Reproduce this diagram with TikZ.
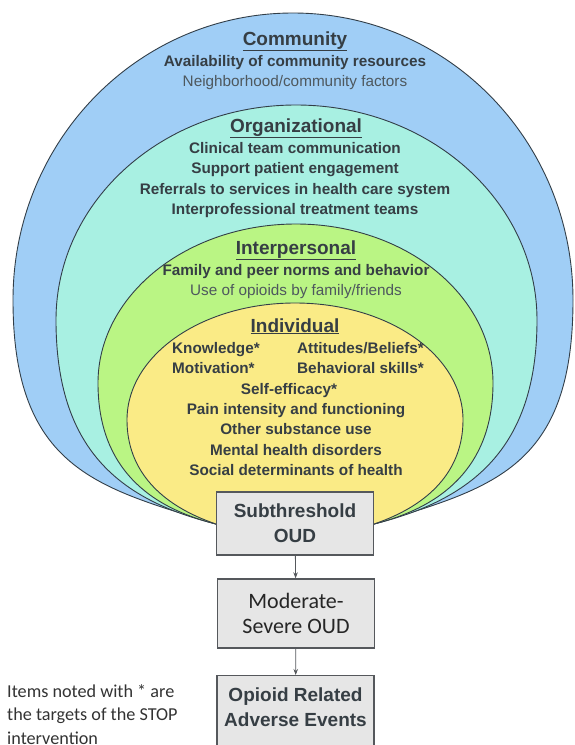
\documentclass[tikz,border=0pt]{standalone}
\usepackage{fontspec}
\setmainfont{Liberation Sans}
\newfontfamily\calibri{Carlito}
\usetikzlibrary{arrows.meta}

\definecolor{commblue}{RGB}{160,206,246}
\definecolor{orgcyan}{RGB}{168,240,226}
\definecolor{intgreen}{RGB}{186,245,132}
\definecolor{indyellow}{RGB}{250,235,134}
\definecolor{rimgray}{RGB}{50,62,72}
\definecolor{inkdark}{RGB}{54,62,68}
\definecolor{inklight}{RGB}{78,88,94}
\definecolor{boxgray}{RGB}{230,230,230}
\definecolor{boxrim}{RGB}{85,88,92}

\tikzset{
  layer/.style={draw=rimgray, line width=0.9pt},
  head/.style={anchor=base, inner sep=0pt, text=inkdark, font=\fontsize{19}{22}\selectfont\bfseries},
  itembold/.style={anchor=base, inner sep=0pt, text=inkdark, font=\fontsize{15.3}{18}\selectfont\bfseries},
  itemplain/.style={anchor=base, inner sep=0pt, text=inklight, font=\fontsize{15.3}{18}\selectfont},
  stage/.style={draw=boxrim, line width=1.4pt, fill=boxgray, align=center, minimum width=157pt, text=inkdark},
  flow/.style={-{Stealth[length=6pt,width=4.5pt]}, draw=boxrim, line width=0.8pt},
}

\begin{document}
\begin{tikzpicture}[x=1pt,y=-1pt]
  \useasboundingbox (0,0) rectangle (574,745);
  \clip (0,0) rectangle (574,745);
  % nested levels, all pinched towards the first box
  \filldraw[layer,fill=commblue] (216,524) .. controls (100,488) and (13,470) .. (13,300)
    .. controls (13,141) and (138,13) .. (293,13) .. controls (448,13) and (573,141) .. (573,300)
    .. controls (573,470) and (490,488) .. (374,524) -- cycle;
  \filldraw[layer,fill=orgcyan] (216,524) .. controls (120,500) and (56,450) .. (56,320)
    .. controls (56,201) and (163,105) .. (296,105) .. controls (429,105) and (537,201) .. (537,320)
    .. controls (537,450) and (470,500) .. (374,524) -- cycle;
  \filldraw[layer,fill=intgreen] (216,524) .. controls (140,505) and (98,460) .. (98,383)
    .. controls (98,295) and (187,224) .. (296,224) .. controls (405,224) and (493,295) .. (493,383)
    .. controls (493,460) and (450,505) .. (374,524) -- cycle;
  \filldraw[layer,fill=indyellow] (216,524) .. controls (160,505) and (127,470) .. (127,420)
    .. controls (127,355) and (202,303) .. (295,303) .. controls (388,303) and (463,355) .. (463,420)
    .. controls (463,470) and (430,505) .. (374,524) -- cycle;

  % community
  \node[head] (comm) at (295,45) {\underline{Community}};
  \node[itembold] (comm1) at (295,66) {Availability of community resources};
  \node[itemplain] (comm2) at (295,86) {Neighborhood/community factors};
  % organizational
  \node[head] (org) at (296,132) {\underline{Organizational}};
  \node[itembold] (org1) at (295,153) {Clinical team communication};
  \node[itembold] (org2) at (295,173) {Support patient engagement};
  \node[itembold] (org3) at (295,194) {Referrals to services in health care system};
  \node[itembold] (org4) at (295,214) {Interprofessional treatment teams};
  % interpersonal
  \node[head] (inter) at (296,254) {\underline{Interpersonal}};
  \node[itembold] (inter1) at (296,275) {Family and peer norms and behavior};
  \node[itemplain] (inter2) at (296,295) {Use of opioids by family/friends};
  % individual
  \node[head] (indiv) at (295,332) {\underline{Individual}};
  \node[itembold,anchor=base west] (know) at (172,353) {Knowledge*};
  \node[itembold,anchor=base west] (att) at (297,353) {Attitudes/Beliefs*};
  \node[itembold,anchor=base west] (motiv) at (172,373) {Motivation*};
  \node[itembold,anchor=base west] (skill) at (297,373) {Behavioral skills*};
  \node[itembold] (self) at (289,394) {Self-efficacy*};
  \node[itembold] (pain) at (296,414) {Pain intensity and functioning};
  \node[itembold] (subst) at (296,434) {Other substance use};
  \node[itembold] (mental) at (296,455) {Mental health disorders};
  \node[itembold] (social) at (296,475) {Social determinants of health};

  % stages
  \node[stage,minimum height=63pt,font=\fontsize{19}{25}\selectfont\bfseries] (sub) at (295,523.5) {Subthreshold\\OUD};
  \node[stage,minimum height=69pt,text=black!85,font=\calibri\fontsize{22}{25}\selectfont] (mod) at (296,613.5) {Moderate-\\Severe OUD};
  \node[stage,anchor=north,inner ysep=12pt,font=\fontsize{19}{25}\selectfont\bfseries] (ore) at (295.5,675) {Opioid Related\\Adverse Events\\\mbox{}};
  \draw[flow] (sub) -- (mod);
  \draw[flow] (mod) -- (ore);

  \node[anchor=north west,inner sep=0pt,align=left,text=black!80,font=\calibri\fontsize{18.2}{23.5}\selectfont] (note) at (7,684)
    {Items noted with * are\\the targets of the STOP\\intervention};
\end{tikzpicture}
\end{document}
